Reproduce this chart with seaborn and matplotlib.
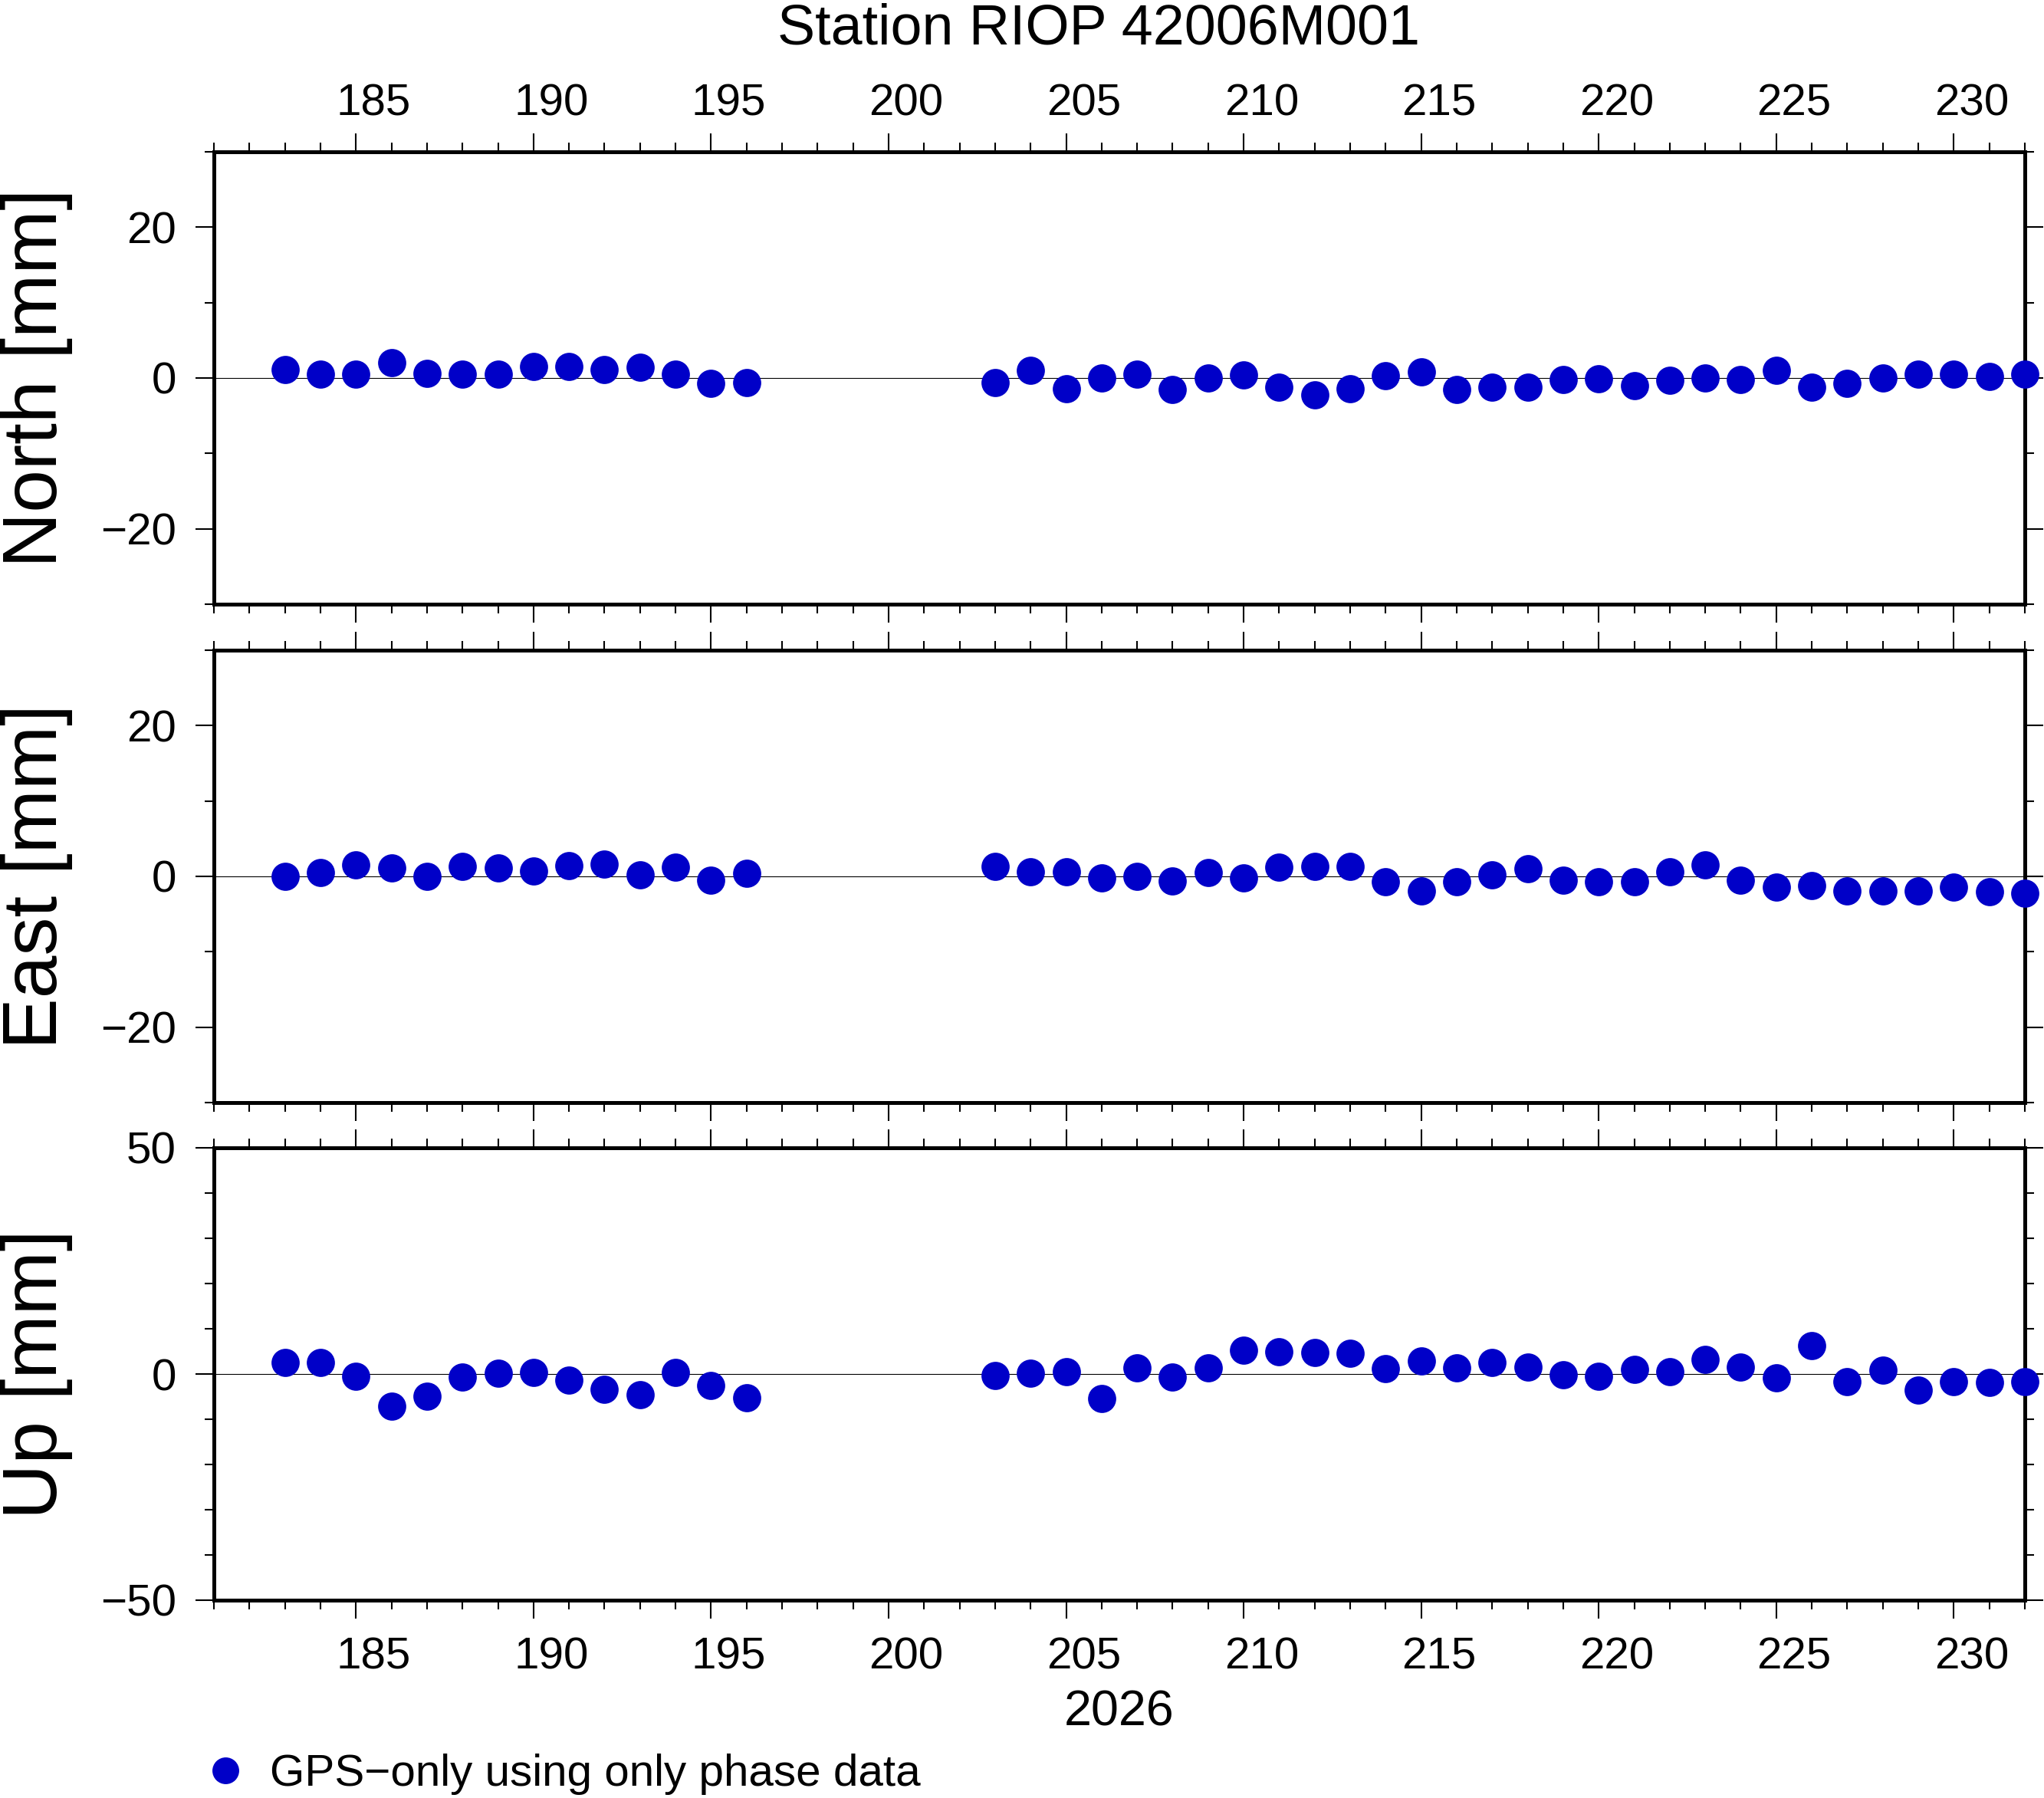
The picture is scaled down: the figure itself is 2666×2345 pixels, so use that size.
import matplotlib
matplotlib.use("Agg")
import matplotlib.pyplot as plt
import pandas as pd
import seaborn as sns
from matplotlib.ticker import MultipleLocator
from matplotlib.transforms import ScaledTranslation

### dias do ano (2026) com solucao
days = [183, 184, 185, 186, 187, 188, 189, 190, 191, 192, 193, 194, 195, 196,
        203, 204, 205, 206, 207, 208, 209, 210, 211, 212, 213, 214, 215, 216,
        217, 218, 219, 220, 221, 222, 223, 224, 225, 226, 227, 228, 229, 230,
        231, 232]

north = [1.07, 0.55, 0.46, 2.08, 0.65, 0.55, 0.55, 1.49, 1.49, 1.07, 1.39, 0.46, -0.76, -0.65,
         -0.65, 0.97, -1.39, 0.04, 0.55, -1.56, -0.04, 0.38, -1.26, -2.27, -1.39, 0.27, 0.86, -1.56,
         -1.18, -1.26, -0.25, -0.15, -1.05, -0.34, -0.04, -0.25, 0.97, -1.26, -0.76, 0.04, 0.46, 0.55,
         0.17, 0.46]

east = [0.04, 0.55, 1.49, 1.07, -0.04, 1.28, 1.07, 0.76, 1.39, 1.60, 0.25, 1.18, -0.46, 0.38,
        1.28, 0.65, 0.65, -0.25, -0.04, -0.65, 0.46, -0.25, 1.18, 1.28, 1.28, -0.76, -1.98, -0.76,
        0.25, 0.97, -0.55, -0.76, -0.76, 0.65, 1.49, -0.55, -1.39, -1.26, -1.89, -1.89, -1.89, -1.39,
        -2.06, -2.19]

up = [2.53, 2.53, -0.56, -7.10, -4.90, -0.70, 0.14, 0.28, -1.40, -3.44, -4.63, 0.28, -2.60, -5.23,
      -0.35, 0.14, 0.49, -5.48, 1.30, -0.70, 1.30, 5.23, 4.92, 4.78, 4.56, 1.12, 2.88, 1.30,
      2.53, 1.47, -0.21, -0.56, 0.98, 0.49, 3.23, 1.47, -0.88, 6.32, -1.76, 0.84, -3.58, -1.76,
      -1.90, -1.76]

components = ["North", "East", "Up"]
ylims = [(-30, 30), (-30, 30), (-50, 50)]
y_major = [20, 20, 50]
y_minor = 10
station = "Station RIOP 42006M001"
year_label = "2026"
legend_label = "GPS\u2212only using only phase data"

df = pd.DataFrame({"day": days, "North": north, "East": east, "Up": up})

sns.set_theme(style="ticks", rc={"text.color": "black", "axes.labelcolor": "black",
                                 "xtick.color": "black", "ytick.color": "black",
                                 "axes.edgecolor": "black"})
plt.rcParams["font.family"] = ["Liberation Sans", "DejaVu Sans"]
plt.rcParams["axes.unicode_minus"] = True

W, H = 2666, 2345
fig = plt.figure(figsize=(W / 100, H / 100), dpi=100)

left, width, height = 279 / W, 2362 / W, 590 / H
tops = [198, 848, 1497]
axes = [fig.add_axes([left, 1 - (t + 590) / H, width, height]) for t in tops]

blue = "#0000c8"
for i, (ax, comp) in enumerate(zip(axes, components)):
    sns.scatterplot(data=df, x="day", y=comp, ax=ax, s=700, color=blue, linewidth=0,
                    clip_on=False, zorder=3, legend=False,
                    label=legend_label if i == 2 else None)
    ax.axhline(0, color="black", lw=0.8, zorder=1)
    ax.set_xlim(181, 232)
    ax.set_ylim(*ylims[i])
    ax.xaxis.set_major_locator(MultipleLocator(5))
    ax.xaxis.set_minor_locator(MultipleLocator(1))
    ax.yaxis.set_major_locator(MultipleLocator(y_major[i]))
    ax.yaxis.set_minor_locator(MultipleLocator(y_minor))
    for sp in ax.spines.values():
        sp.set_visible(True)
        sp.set_linewidth(3.6)
    ax.tick_params(which="both", direction="out", top=True, bottom=True, left=True, right=True,
                   width=1.5, labelsize=42, labelbottom=False, labeltop=False)
    ax.tick_params(which="major", length=17.3)
    ax.tick_params(which="minor", length=8.6)
    ax.tick_params(axis="y", pad=18)
    ax.set_xlabel("")
    ax.set_ylabel(f"{comp} [mm]", fontsize=72)
    ax.yaxis.set_label_coords(-0.0779, 0.5)

axes[0].tick_params(axis="x", labeltop=True, pad=8.6)
axes[2].tick_params(axis="x", labelbottom=True, pad=17)

### rotulos dos dias deslocados meio dia para a direita (como no GMT)
offset = ScaledTranslation(0.232, 0, fig.dpi_scale_trans)
for ax in (axes[0], axes[2]):
    for tick in ax.xaxis.get_major_ticks():
        for lab in (tick.label1, tick.label2):
            lab.set_transform(lab.get_transform() + offset)

axes[2].set_xlabel(year_label, fontsize=46.5)
axes[2].xaxis.set_label_coords(0.5, -0.1975)

fig.text(1433 / W, 1 - 57 / H, station, ha="center", va="baseline", fontsize=53)

axes[2].legend(loc="center left", bbox_to_anchor=(265 / W, 1 - 2314 / H),
               bbox_transform=fig.transFigure, frameon=False, fontsize=42,
               handlelength=1.0, handletextpad=0.5, borderpad=0, borderaxespad=0,
               scatteryoffsets=[0.5], markerscale=0.95)

fig.savefig("out.png", dpi=100)
